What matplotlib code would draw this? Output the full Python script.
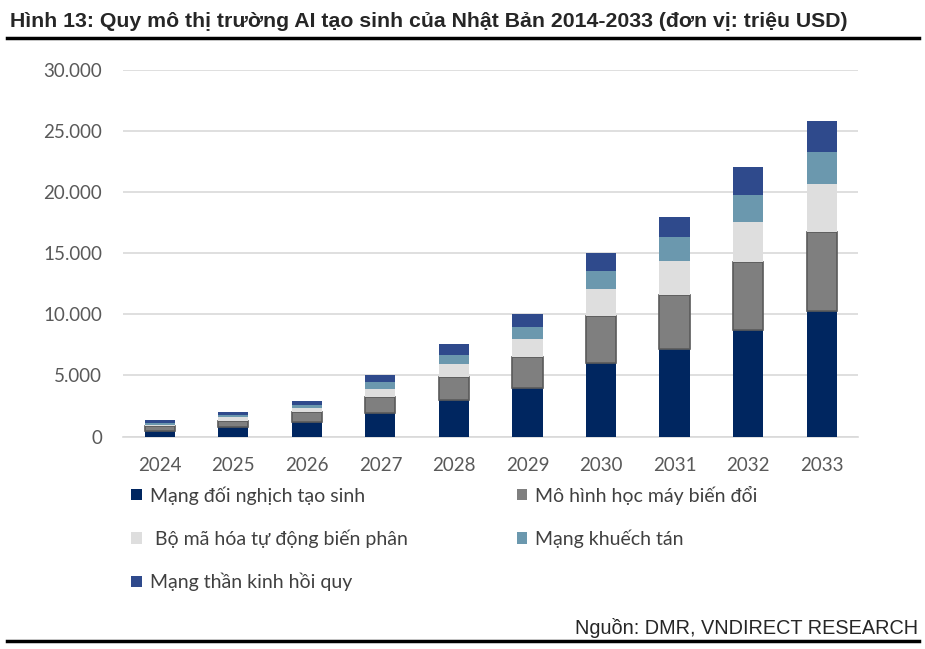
import matplotlib
matplotlib.use("Agg")
import matplotlib.pyplot as plt
from matplotlib.lines import Line2D
from matplotlib.patches import Patch
import numpy as np

# Data (million USD)
years = ["2024", "2025", "2026", "2027", "2028", "2029", "2030", "2031", "2032", "2033"]
gan = [450, 800, 1200, 1900, 2950, 4000, 6000, 7200, 8750, 10250]
transformer = [400, 500, 800, 1300, 1900, 2500, 3850, 4400, 5550, 6500]
vae = [120, 300, 330, 700, 1050, 1500, 2250, 2800, 3300, 3900]
diffusion = [130, 180, 270, 600, 800, 1000, 1450, 1900, 2200, 2600]
rnn = [220, 220, 300, 500, 900, 1000, 1450, 1700, 2300, 2600]

series_names = ["Mạng đối nghịch tạo sinh", "Mô hình học máy biến đổi",
                " Bộ mã hóa tự động biến phân", "Mạng khuếch tán",
                "Mạng thần kinh hồi quy"]
yticks = [0, 5000, 10000, 15000, 20000, 25000, 30000]
ytick_labels = ["0", "5.000", "10.000", "15.000", "20.000", "25.000", "30.000"]

colors = ["#002660", "#7f7f7f", "#dedede", "#6b98ae", "#2f4a8c"]

plt.rcParams['font.family'] = ['Lato', 'DejaVu Sans']

fig = plt.figure(figsize=(9.25, 6.49), dpi=100)
ax = fig.add_axes([0.133, 0.3274, 0.795, 0.5647])

x = np.arange(len(years))
bottom = np.zeros(len(years))
width = 0.41
for vals, c, name in zip([gan, transformer, vae, diffusion, rnn], colors, series_names):
    if c == "#7f7f7f":
        ax.bar(x, vals, width, bottom=bottom, color=c, edgecolor="#5a5a5a", linewidth=1.2, zorder=3)
    else:
        ax.bar(x, vals, width, bottom=bottom, color=c, linewidth=0, zorder=3)
    bottom += np.array(vals)

ax.set_xlim(-0.5, 9.5)
ax.set_ylim(0, 30000)
ax.set_yticks(yticks)
ax.set_yticklabels(ytick_labels)
ax.set_xticks(x)
ax.set_xticklabels(years)
ax.yaxis.grid(True, color="#d9d9d9", linewidth=1.2, zorder=0)
ax.set_axisbelow(True)
for s in ["top", "right", "left"]:
    ax.spines[s].set_visible(False)
ax.spines["bottom"].set_color("#d9d9d9")
ax.spines["bottom"].set_linewidth(1.2)
ax.tick_params(axis="both", length=0, labelsize=13.5, colors="#595959")
ax.tick_params(axis="y", pad=15)
ax.tick_params(axis="x", pad=15)

# legend: column-major order
handles = [Patch(facecolor=c, edgecolor="none") for c in colors]
order = [0, 2, 4, 1, 3]
leg = fig.legend([handles[i] for i in order], [series_names[i] for i in order],
                 ncol=2, loc="upper left", bbox_to_anchor=(0.123, 0.279),
                 frameon=False, fontsize=14, handlelength=0.55, handleheight=0.55,
                 handletextpad=0.4, labelspacing=1.28, columnspacing=5.6)
for t in leg.get_texts():
    t.set_color("#404040")

# title, rules, source
fig.text(0.011, 0.967, "Hình 13: Quy mô thị trường AI tạo sinh của Nhật Bản 2014-2033 (đơn vị: triệu USD)",
         fontsize=15.3, fontweight="bold", color="#262626",
         family=["Liberation Sans Narrow", "Liberation Sans"], va="center", ha="left")
fig.add_artist(Line2D([0.008, 0.993], [0.941, 0.941], color="black", linewidth=2.5))
fig.add_artist(Line2D([0.008, 0.993], [0.012, 0.012], color="black", linewidth=2.5))
fig.text(0.993, 0.032, "Nguồn: DMR, VNDIRECT RESEARCH", fontsize=14.3, color="#262626",
         family=["Liberation Sans Narrow", "Liberation Sans"], ha="right", va="center")

fig.savefig("out.png", dpi=100)
